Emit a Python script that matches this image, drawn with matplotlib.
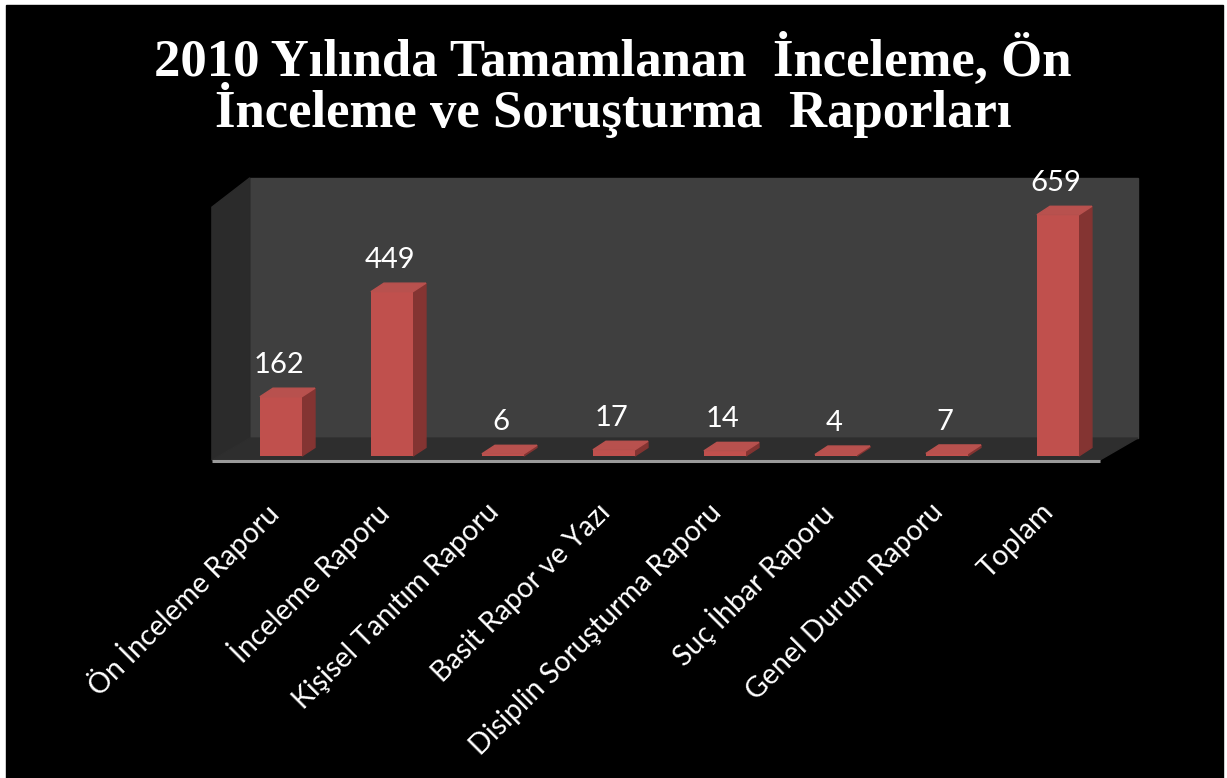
import matplotlib
matplotlib.use("Agg")
import matplotlib.pyplot as plt
from matplotlib.patches import Polygon, Rectangle

# data
categories = ["Ön İnceleme Raporu", "İnceleme Raporu", "Kişisel Tanıtım Raporu",
              "Basit Rapor ve Yazı", "Disiplin Soruşturma Raporu", "Suç İhbar Raporu",
              "Genel Durum Raporu", "Toplam"]
values = [162, 449, 6, 17, 14, 4, 7, 659]
title_lines = ["2010 Yılında Tamamlanan  İnceleme, Ön", "İnceleme ve Soruşturma  Raporları"]

W, H = 1227, 778
FRONT = "#c0504d"
SIDE = "#843432"
TOP = "#b8514e"
LABEL_FONT = ["Lato", "DejaVu Sans"]

fig = plt.figure(figsize=(W / 100, H / 100), dpi=100, facecolor="white")
fig.patches.append(Rectangle((6 / W, 0), (1223 - 6) / W, 773 / H,
                             transform=fig.transFigure, color="black", zorder=-5))

# axes box in pixels (image coords): x 150..1200, y 150..480
ax = fig.add_axes([150 / W, (H - 480) / H, 1050 / W, 330 / H])
ax.set_facecolor("none")
for s in ax.spines.values():
    s.set_visible(False)
ax.set_xticks([]); ax.set_yticks([])
ax.set_xlim(-1.18, 8.28)
ax.set_ylim(-65.6, 836)

n = len(categories)
px_x = ax.bbox.width / (ax.get_xlim()[1] - ax.get_xlim()[0])
px_y = ax.bbox.height / (ax.get_ylim()[1] - ax.get_ylim()[0])

# walls / floor of the 3-D frame
wall_dx, wall_dy = 38 / px_x, 22 / px_y
x0, x1 = -0.28, n - 1 + 0.72
y_back, y_top = 49, 760
ax.add_patch(Polygon([(x0, y_back), (x1, y_back), (x1, y_top), (x0, y_top)],
                     closed=True, color="#3f3f3f", zorder=1))
ax.add_patch(Polygon([(x0 - wall_dx, y_back - wall_dy), (x0 - wall_dx, y_top - wall_dy - 20),
                      (x0, y_top), (x0, y_back)], closed=True, color="#2b2b2b", zorder=1))
ax.add_patch(Polygon([(x0 - wall_dx, y_back - wall_dy), (x0, y_back), (x1, y_back),
                      (x1 - wall_dx, y_back - wall_dy)], closed=True, color="#2e2e2e", zorder=1))
ax.plot([x0 - wall_dx, x1 - wall_dx], [y_back - wall_dy - 3, y_back - wall_dy - 3],
        color="#9a9a9a", lw=2.2, solid_capstyle="butt", zorder=2)

# 3-D bars
bw = 42 / px_x
dx, dy = 13 / px_x, 8.5 / px_y
xs = list(range(n))
ax.bar(xs, values, width=bw, color=FRONT, zorder=4)
for x, v in zip(xs, values):
    r = x + bw / 2
    l = x - bw / 2
    ax.add_patch(Polygon([(r, 0), (r + dx, dy), (r + dx, v + dy), (r, v)],
                         closed=True, color=SIDE, zorder=3))
    ax.add_patch(Polygon([(l, v), (l + dx, v + dy), (r + dx, v + dy), (r, v)],
                         closed=True, color=TOP, zorder=5))
    ax.annotate(str(v), xy=(x, v + dy), xytext=(-2, 23), textcoords="offset pixels",
                ha="center", va="center", color="white", fontsize=21, family=LABEL_FONT,
                zorder=6)
    ax.annotate(categories[x], xy=(x, 0), xytext=(-8, -52), textcoords="offset pixels",
                ha="right", va="center", rotation=45, rotation_mode="anchor",
                color="white", fontsize=20.5, family=LABEL_FONT, annotation_clip=False)

fig.text(613 / W, 1 - 60 / H, title_lines[0], ha="center", va="center", color="white",
         fontsize=38, fontweight="bold", family="Liberation Serif")
fig.text(613 / W, 1 - 110 / H, title_lines[1], ha="center", va="center", color="white",
         fontsize=38, fontweight="bold", family="Liberation Serif")

fig.savefig("out.png", dpi=100, facecolor="white")
